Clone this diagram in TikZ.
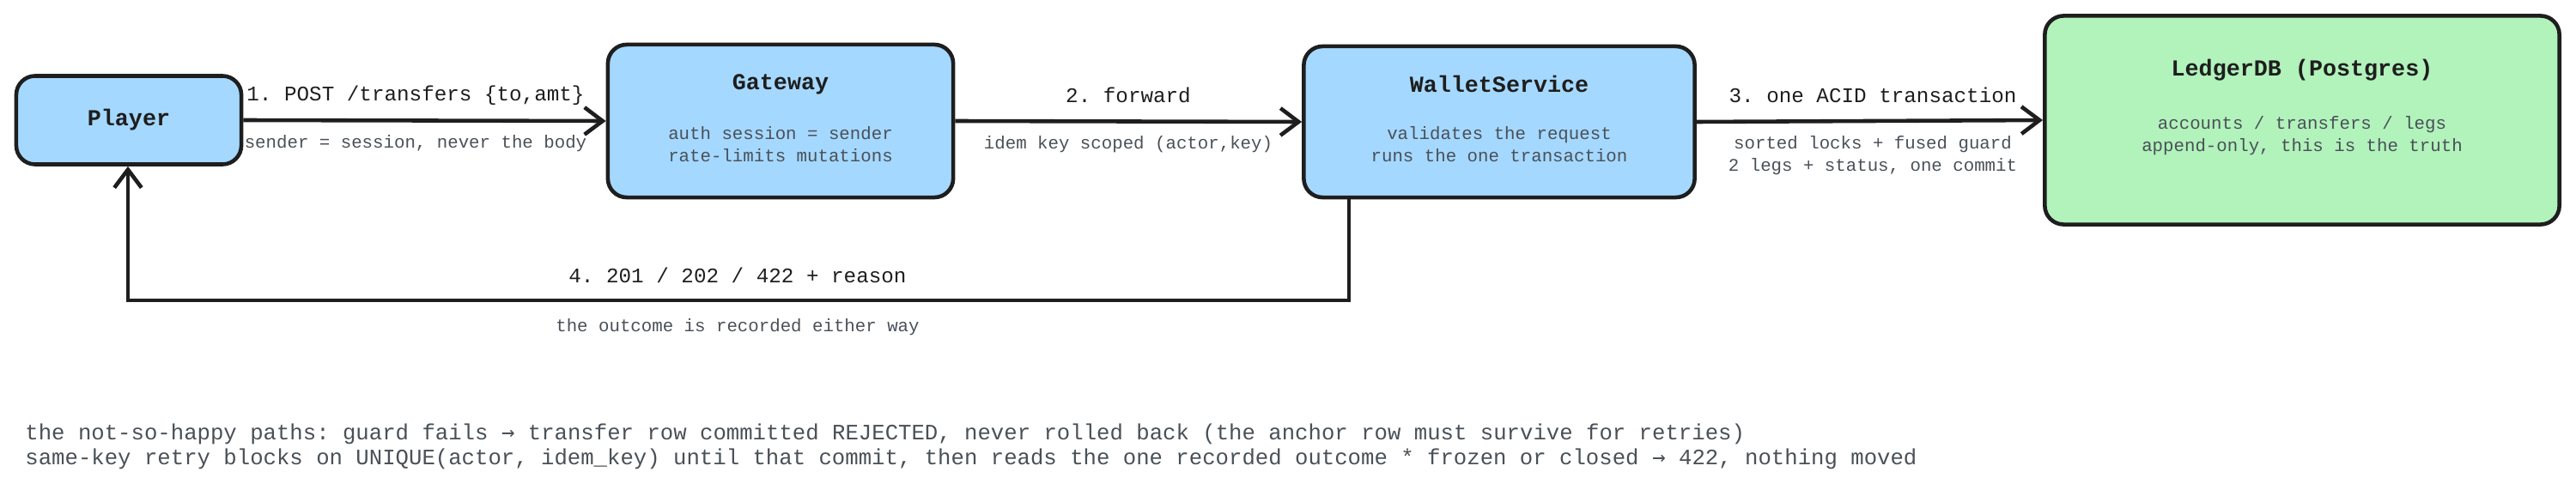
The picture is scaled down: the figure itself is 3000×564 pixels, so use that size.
\documentclass[tikz,border=0pt]{standalone}
\usepackage{fontspec}
\setmonofont{Liberation Mono}
\newfontfamily\arwfont{DejaVu Sans Mono}
\newcommand{\rarw}{{\arwfont →}}
\usetikzlibrary{arrows.meta}
\definecolor{bluef}{HTML}{A5D8FF}
\definecolor{greenf}{HTML}{B2F2BB}
\definecolor{ink}{HTML}{1E1E1E}
\definecolor{note}{HTML}{495057}
\begin{document}
\begin{tikzpicture}[x=0.01cm,y=-0.01cm,
  box/.style={draw=ink,line width=1.3pt,rounded corners=0.22cm,inner sep=0pt},
  ttl/.style={font=\fontsize{7.6}{9}\ttfamily\bfseries,text=ink},
  sub/.style={font=\fontsize{5.9}{7.6}\ttfamily,text=note,align=center},
  stp/.style={font=\fontsize{6.9}{8}\ttfamily,text=ink},
  enote/.style={font=\fontsize{5.9}{7.6}\ttfamily,text=note,align=center},
  bnote/.style={font=\fontsize{7.3}{8.3}\ttfamily,text=note,anchor=west},
  arr/.style={draw=ink,line width=1.3pt,-{Straight Barb[length=6pt,width=9pt]}}]
\useasboundingbox (0,0) rectangle (3000,564);
% boxes
\node[box,fill=bluef,minimum width=2.62cm,minimum height=1.03cm] (player) at (150,140) {};
\node[ttl] (playert) at (150,140) {Player};
\node[box,fill=bluef,minimum width=4.02cm,minimum height=1.78cm] (gw) at (909,141) {};
\node[ttl] (gwt) at (909,98) {Gateway};
\node[sub] (gws) at (909,168) {auth session = sender\\rate-limits mutations};
\node[box,fill=bluef,minimum width=4.55cm,minimum height=1.76cm] (ws) at (1746,142) {};
\node[ttl] (wst) at (1746,98) {WalletService};
\node[sub] (wss) at (1746,168) {validates the request\\runs the one transaction};
\node[box,fill=greenf,minimum width=5.99cm,minimum height=2.43cm] (db) at (2681,140) {};
\node[ttl] (dbt) at (2681,82) {LedgerDB (Postgres)};
\node[sub] (dbs) at (2681,158) {accounts / transfers / legs\\append-only, this is the truth};
% arrows
\draw[arr] (player.east) -- (gw.west);
\draw[arr] (gw.east) -- (ws.west);
\draw[arr] (ws.east) -- (db.west);
\coordinate (r1) at (1571,350);
\coordinate (r2) at (149,350);
\draw[arr] (ws.south -| r1) -- (r1) -- (r2) -- (player.south -| r2);
% labels
\node[stp] (l1) at (484,111) {1. POST /transfers \{to,amt\}};
\node[enote] (n1) at (484,167) {sender = session, never the body};
\node[stp] (l2) at (1314,111) {2. forward};
\node[enote] (n2) at (1314,168) {idem key scoped (actor,key)};
\node[stp] (l3) at (2181,111) {3. one ACID transaction};
\node[enote] (n3) at (2181,181) {sorted locks + fused guard\\2 legs + status, one commit};
\node[stp] (l4) at (859,321) {4. 201 / 202 / 422 + reason};
\node[enote] (n4) at (859,381) {the outcome is recorded either way};
\node[bnote] (b1) at (17,506) {the not-so-happy paths: guard fails \rarw{} transfer row committed REJECTED, never rolled back (the anchor row must survive for retries)};
\node[bnote] (b2) at (17,535) {same-key retry blocks on UNIQUE(actor, idem\_key) until that commit, then reads the one recorded outcome * frozen or closed \rarw{} 422, nothing moved};
\end{tikzpicture}
\end{document}
